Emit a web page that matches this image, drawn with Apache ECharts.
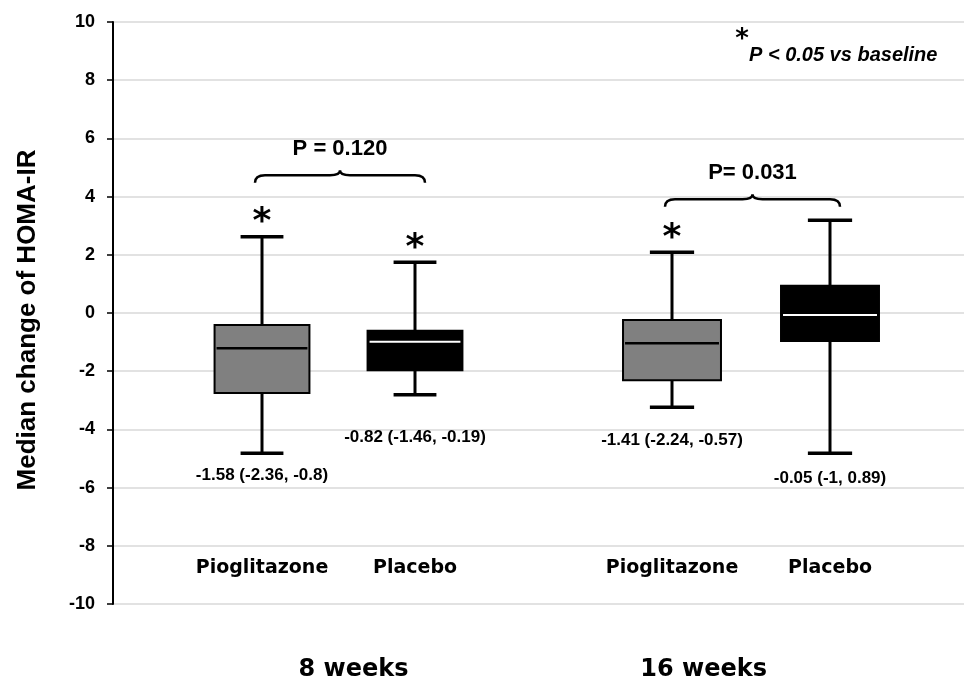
<!DOCTYPE html>
<html><head><meta charset="utf-8">
<script src="https://cdn.jsdelivr.net/npm/echarts@6/dist/echarts.min.js"></script>
<style>html,body{margin:0;padding:0;background:#fff}#c{width:964px;height:686px}</style>
</head><body><div id="c"></div>
<script>
// ---- data ----
const groupLabels = ['8 weeks', '16 weeks'];
const arms = ['Pioglitazone', 'Placebo'];
const yAxisTitle = 'Median change of HOMA-IR';
const noteText = 'P < 0.05 vs baseline';

const w8Min = [-4.82, -2.81];
const w8Q1  = [-2.75, -1.97];
const w8Med = [-1.21, -0.99];
const w8Q3  = [-0.41, -0.61];
const w8Max = [2.62, 1.74];

const w16Min = [-3.24, -4.82];
const w16Q1  = [-2.31, -0.96];
const w16Med = [-1.04, -0.07];
const w16Q3  = [-0.24, 0.94];
const w16Max = [2.09, 3.19];

const w8Notes  = ['-1.58 (-2.36, -0.8)', '-0.82 (-1.46, -0.19)'];
const w16Notes = ['-1.41 (-2.24, -0.57)', '-0.05 (-1, 0.89)'];
const w8NoteY  = [-5.57, -4.27];
const w16NoteY = [-4.36, -5.68];

const w8Sig  = [true, true];
const w16Sig = [true, false];

const pLabels = ['P = 0.120', 'P= 0.031'];
const braceY  = [4.73, 3.91];

// ---- styles ----
const boxFill = ['#808080', '#000000'];
const medColor = ['#000000', '#ffffff'];
const ARIAL = '"Liberation Sans", Arial, sans-serif';
const DEJAVU = '"DejaVu Sans", sans-serif';

function boxRender(params, api) {
  const i = api.value(0);
  const slot = api.size([1, 0])[0];
  const bw = slot * 0.62, cw = slot * 0.28;
  const pMin = api.coord([i, api.value(1)]);
  const pQ1 = api.coord([i, api.value(2)]);
  const pMed = api.coord([i, api.value(3)]);
  const pQ3 = api.coord([i, api.value(4)]);
  const pMax = api.coord([i, api.value(5)]);
  const x = pMin[0];
  const ls = { stroke: '#000', lineWidth: 3 };
  return {
    type: 'group',
    children: [
      { type: 'line', shape: { x1: x, y1: pQ3[1], x2: x, y2: pMax[1] }, style: ls },
      { type: 'line', shape: { x1: x - cw / 2, y1: pMax[1], x2: x + cw / 2, y2: pMax[1] }, style: { stroke: '#000', lineWidth: 3.5 } },
      { type: 'line', shape: { x1: x, y1: pQ1[1], x2: x, y2: pMin[1] }, style: ls },
      { type: 'line', shape: { x1: x - cw / 2, y1: pMin[1], x2: x + cw / 2, y2: pMin[1] }, style: { stroke: '#000', lineWidth: 3.5 } },
      { type: 'rect', shape: { x: x - bw / 2, y: pQ3[1], width: bw, height: pQ1[1] - pQ3[1] },
        style: { fill: boxFill[i], stroke: '#000', lineWidth: 2 } },
      { type: 'line', shape: { x1: x - bw / 2 + 2, y1: pMed[1], x2: x + bw / 2 - 2, y2: pMed[1] },
        style: { stroke: medColor[i], lineWidth: i === 0 ? 2.5 : 2 } }
    ]
  };
}

function noteRender(notes) {
  return function (params, api) {
    const i = api.value(0);
    const p = api.coord([i, api.value(1)]);
    return { type: 'text', style: { text: notes[i], x: p[0], y: p[1], fill: '#000',
      font: 'bold 17px ' + ARIAL, align: 'center', verticalAlign: 'middle' } };
  };
}

function starRender(params, api) {
  const i = api.value(0);
  const p = api.coord([i, api.value(1)]);
  return { type: 'text', style: { text: '*', x: p[0], y: p[1] - 14, fill: '#000',
    font: 'bold 36px ' + DEJAVU, align: 'center', verticalAlign: 'middle' } };
}

function braceRender(label) {
  return function (params, api) {
    const a = api.coord([0, api.value(1)]);
    const b = api.coord([1, api.value(1)]);
    const x1 = a[0] - 7, x2 = b[0] + 10, y = a[1], xm = (x1 + x2) / 2;
    const path = 'M' + x1 + ',' + (y + 7.5) + ' Q' + x1 + ',' + y + ' ' + (x1 + 10) + ',' + y +
      ' L' + (xm - 10) + ',' + y + ' Q' + xm + ',' + y + ' ' + xm + ',' + (y - 5) +
      ' Q' + xm + ',' + y + ' ' + (xm + 10) + ',' + y +
      ' L' + (x2 - 10) + ',' + y + ' Q' + x2 + ',' + y + ' ' + x2 + ',' + (y + 7.5);
    return {
      type: 'group', children: [
        { type: 'path', shape: { pathData: path }, style: { stroke: '#000', lineWidth: 2.5, fill: null } },
        { type: 'text', style: { text: label, x: xm, y: y - 26, fill: '#000',
          font: 'bold 22px ' + ARIAL, align: 'center', verticalAlign: 'middle' } }
      ]
    };
  };
}

function groupSeries(g, mins, q1s, meds, q3s, maxs, notes, noteY, sig) {
  const boxData = arms.map((a, i) => [i, mins[i], q1s[i], meds[i], q3s[i], maxs[i]]);
  const noteData = arms.map((a, i) => [i, noteY[i]]);
  const starData = arms.map((a, i) => sig[i] ? [i, maxs[i]] : null).filter(d => d);
  return [
    { type: 'custom', xAxisIndex: g + 1, yAxisIndex: g + 1, renderItem: boxRender,
      encode: { x: 0, y: [1, 2, 3, 4, 5] }, data: boxData, silent: true },
    { type: 'custom', xAxisIndex: g + 1, yAxisIndex: g + 1, renderItem: noteRender(notes),
      encode: { x: 0, y: 1 }, data: noteData, silent: true },
    { type: 'custom', xAxisIndex: g + 1, yAxisIndex: g + 1, renderItem: starRender,
      encode: { x: 0, y: 1 }, data: starData, silent: true },
    { type: 'custom', xAxisIndex: g + 1, yAxisIndex: g + 1, renderItem: braceRender(pLabels[g]),
      encode: { x: 0, y: 1 }, data: [[0, braceY[g]]], silent: true }
  ];
}

const chart = echarts.init(document.getElementById('c'), null, { renderer: 'canvas' });
const catAxis = (gi) => ({
  type: 'category', gridIndex: gi, data: arms, offset: -53,
  axisLine: { show: false }, axisTick: { show: false }, splitLine: { show: false },
  axisLabel: { color: '#000', fontFamily: DEJAVU, fontWeight: 'bold', fontSize: 19, margin: 8,
    interval: 0, hideOverlap: false }
});
const hiddenY = (gi) => ({ type: 'value', gridIndex: gi, min: -10, max: 10, interval: 2, show: false });

chart.setOption({
  animation: false,
  backgroundColor: '#fff',
  grid: [
    { left: 113, right: 0, top: 22, bottom: 82 },
    { left: 185.5, right: 472.5, top: 22, bottom: 82 },
    { left: 593, right: 55, top: 22, bottom: 82 }
  ],
  xAxis: [
    { type: 'value', gridIndex: 0, show: false, min: 0, max: 1 },
    catAxis(1), catAxis(2)
  ],
  yAxis: [
    { type: 'value', gridIndex: 0, min: -10, max: 10, interval: 2,
      name: yAxisTitle, nameLocation: 'middle', nameRotate: 90, nameGap: 72,
      nameTextStyle: { color: '#000', fontFamily: ARIAL, fontWeight: 'bold', fontSize: 26, padding: [0, 14, 0, 0] },
      axisLine: { show: true, lineStyle: { color: '#000', width: 2 } },
      axisTick: { show: true, length: 6, lineStyle: { color: '#000', width: 1.5 } },
      axisLabel: { color: '#000', fontFamily: ARIAL, fontWeight: 'bold', fontSize: 18, margin: 18 },
      splitLine: { show: true, lineStyle: { color: '#d9d9d9', width: 1.5 } }
    },
    hiddenY(1), hiddenY(2)
  ],
  graphic: [
    { type: 'text', style: { text: groupLabels[0], x: 353.5, y: 670, fill: '#000',
      font: 'bold 24px ' + DEJAVU, align: 'center', verticalAlign: 'middle' } },
    { type: 'text', style: { text: groupLabels[1], x: 703.7, y: 670, fill: '#000',
      font: 'bold 24px ' + DEJAVU, align: 'center', verticalAlign: 'middle' } },
    { type: 'text', style: { text: '*', x: 742, y: 40, fill: '#000',
      font: 'bold 26px ' + DEJAVU, align: 'center', verticalAlign: 'middle' } },
    { type: 'text', style: { text: noteText, x: 749, y: 55.5, fill: '#000',
      font: 'italic bold 20px ' + ARIAL, align: 'left', verticalAlign: 'middle' } }
  ],
  series: [
    ...groupSeries(0, w8Min, w8Q1, w8Med, w8Q3, w8Max, w8Notes, w8NoteY, w8Sig),
    ...groupSeries(1, w16Min, w16Q1, w16Med, w16Q3, w16Max, w16Notes, w16NoteY, w16Sig)
  ]
});
</script>
</body></html>
